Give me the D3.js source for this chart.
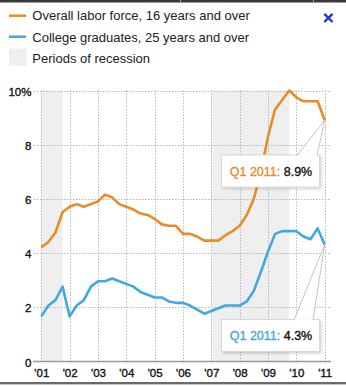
<!DOCTYPE html>
<html>
<head>
<meta charset="utf-8">
<script src="https://cdn.jsdelivr.net/npm/d3@7"></script>
<style>
  html, body { margin: 0; padding: 0; background: #fff; }
  svg { display: block; font-family: "Liberation Sans", Arial, Helvetica, sans-serif; }
</style>
</head>
<body>
<svg id="chart" width="346" height="387"></svg>
<script>
// ---------- data ----------
const quarters = [
  "Q1 2001","Q2 2001","Q3 2001","Q4 2001",
  "Q1 2002","Q2 2002","Q3 2002","Q4 2002",
  "Q1 2003","Q2 2003","Q3 2003","Q4 2003",
  "Q1 2004","Q2 2004","Q3 2004","Q4 2004",
  "Q1 2005","Q2 2005","Q3 2005","Q4 2005",
  "Q1 2006","Q2 2006","Q3 2006","Q4 2006",
  "Q1 2007","Q2 2007","Q3 2007","Q4 2007",
  "Q1 2008","Q2 2008","Q3 2008","Q4 2008",
  "Q1 2009","Q2 2009","Q3 2009","Q4 2009",
  "Q1 2010","Q2 2010","Q3 2010","Q4 2010",
  "Q1 2011"
];
const overallLaborForce = [
  4.2, 4.4, 4.75, 5.5,
  5.7, 5.8, 5.7, 5.8,
  5.9, 6.15, 6.05, 5.8,
  5.7, 5.6, 5.45, 5.4,
  5.25, 5.05, 5.0, 5.0,
  4.7, 4.7, 4.6, 4.45,
  4.45, 4.45, 4.65, 4.8,
  5.0, 5.4, 6.0, 7.0,
  8.3, 9.3, 9.65, 10.0,
  9.75, 9.6, 9.6, 9.6,
  8.9
];
const collegeGraduates = [
  1.65, 2.05, 2.25, 2.75,
  1.65, 2.05, 2.25, 2.75,
  2.95, 2.95, 3.05, 2.95,
  2.85, 2.75, 2.55, 2.45,
  2.35, 2.35, 2.2, 2.15,
  2.15, 2.05, 1.9, 1.75,
  1.85, 1.95, 2.05, 2.05,
  2.05, 2.2, 2.6, 3.3,
  4.05, 4.7, 4.8, 4.8,
  4.8, 4.6, 4.5, 4.9,
  4.3
];
const recessions = [
  ["Q1 2001", "Q4 2001"],
  ["Q1 2007", "Q4 2009"]
];
const yearTicks = ["'01","'02","'03","'04","'05","'06","'07","'08","'09","'10","'11"];
const yTicks = [0, 2, 4, 6, 8, 10];
const seriesNames = ["Overall labor force, 16 years and over", "College graduates, 25 years and over"];
const recessionLabel = "Periods of recession";

// ---------- styles ----------
const ORANGE = "#e98b26";
const BLUE = "#42a8de";
const GRID = "#b9b9b9";
const TEXT = "#222";

const svg = d3.select("#chart");

// quarter label -> fractional year position
const qPos = q => { const p = q.split(" "); return +p[1] + (+p[0].slice(1) - 1) / 4; };

const x = d3.scaleLinear().domain([2001, 2011]).range([41.3, 324.7]);
const y = d3.scaleLinear().domain([0, 10]).range([361, 90.5]);

// defs: drop shadow
const defs = svg.append("defs");
const f = defs.append("filter").attr("id", "shadow").attr("x", "-20%").attr("y", "-30%").attr("width", "150%").attr("height", "180%");
f.append("feDropShadow").attr("dx", 1.5).attr("dy", 1.5).attr("stdDeviation", 1.6).attr("flood-color", "#000").attr("flood-opacity", 0.18);

// top bar & bottom rule (frame)
svg.append("rect").attr("x", 0).attr("y", 0).attr("width", 346).attr("height", 2.5).attr("fill", "#3a3a3a");
[180, 313].forEach(px => svg.append("rect").attr("x", px).attr("y", 0).attr("width", 1).attr("height", 2.5).attr("fill", "#9a9a9a"));
svg.append("rect").attr("x", 0).attr("y", 382).attr("width", 346).attr("height", 2).attr("fill", "#6a6a6a");
svg.append("rect").attr("x", 0).attr("y", 384).attr("width", 346).attr("height", 1).attr("fill", "#c8c8c8");

// ---------- legend ----------
const legend = svg.append("g");
legend.append("line").attr("x1", 9).attr("x2", 26).attr("y1", 15.7).attr("y2", 15.7).attr("stroke", ORANGE).attr("stroke-width", 2.5);
legend.append("text").attr("x", 32.3).attr("y", 20.3).attr("font-size", 13).attr("fill", TEXT).text(seriesNames[0]);
legend.append("line").attr("x1", 9).attr("x2", 26).attr("y1", 36.7).attr("y2", 36.7).attr("stroke", BLUE).attr("stroke-width", 2.5);
legend.append("text").attr("x", 32.3).attr("y", 41.5).attr("font-size", 13).attr("fill", TEXT).text(seriesNames[1]);
legend.append("rect").attr("x", 9).attr("y", 48.5).attr("width", 17.5).attr("height", 17.5).attr("fill", "#efefef");
legend.append("text").attr("x", 32.3).attr("y", 62.5).attr("font-size", 13).attr("fill", TEXT).text(recessionLabel);

// close icon
svg.append("path").attr("d", "M324.3,13.8 L332.5,22 M332.5,13.8 L324.3,22")
  .attr("stroke", "#1f35d0").attr("stroke-width", 2.4).attr("fill", "none");

// ---------- chart ----------
const g = svg.append("g");

// recession shading
g.selectAll("rect.rec").data(recessions).join("rect").attr("class", "rec")
  .attr("x", d => x(qPos(d[0])))
  .attr("width", d => x(qPos(d[1])) - x(qPos(d[0])))
  .attr("y", y(10))
  .attr("height", y(0) - y(10))
  .attr("fill", "#efefef");

// horizontal grid
g.selectAll("line.hg").data(yTicks.filter(v => v > 0)).join("line").attr("class", "hg")
  .attr("x1", 34).attr("x2", 331)
  .attr("y1", d => Math.round(y(d)) + 0.5).attr("y2", d => Math.round(y(d)) + 0.5)
  .attr("stroke", GRID).attr("stroke-width", 1).attr("stroke-dasharray", "1.5,1.5");

// vertical grid
g.selectAll("line.vg").data(yearTicks).join("line").attr("class", "vg")
  .attr("x1", (d, i) => Math.round(x(2001 + i)) + 0.5).attr("x2", (d, i) => Math.round(x(2001 + i)) + 0.5)
  .attr("y1", y(10)).attr("y2", y(0) + 3)
  .attr("stroke", GRID).attr("stroke-width", 1).attr("stroke-dasharray", "1.5,1.5");

// baseline
g.append("line").attr("x1", 33).attr("x2", 331).attr("y1", y(0) + 0.5).attr("y2", y(0) + 0.5)
  .attr("stroke", "#9a9a9a").attr("stroke-width", 1.5);

// y labels
g.selectAll("text.yl").data(yTicks).join("text").attr("class", "yl")
  .attr("x", 31.5).attr("y", d => y(d) + 5.5)
  .attr("text-anchor", "end").attr("font-size", 11.5).attr("fill", "#111")
  .attr("stroke", "#111").attr("stroke-width", 0.35)
  .text(d => d === 10 ? d + "%" : d);

// x labels
g.selectAll("text.xl").data(yearTicks).join("text").attr("class", "xl")
  .attr("x", (d, i) => x(2001 + i) + 0.5).attr("y", 376.5)
  .attr("text-anchor", "middle").attr("font-size", 11.5).attr("fill", "#111")
  .attr("stroke", "#111").attr("stroke-width", 0.35)
  .text(d => d);

// lines
const line = d3.line().x((d, i) => x(qPos(quarters[i]))).y(d => y(d));
g.append("path").datum(overallLaborForce).attr("d", line)
  .attr("fill", "none").attr("stroke", ORANGE).attr("stroke-width", 2.6).attr("stroke-linejoin", "round");
g.append("path").datum(collegeGraduates).attr("d", line)
  .attr("fill", "none").attr("stroke", BLUE).attr("stroke-width", 2.6).attr("stroke-linejoin", "round");

// ---------- callouts ----------
const last = quarters.length - 1;
function callout(values, color, boxTop, tailL, tailR) {
  const px = x(qPos(quarters[last])), py = y(values[last]);
  const bx = 221.5, bw = 98, bh = 32;
  const c = svg.append("g");
  c.append("rect").attr("x", bx).attr("y", boxTop).attr("width", bw).attr("height", bh)
    .attr("fill", "#fff").attr("stroke", "#d8d8d8").attr("stroke-width", 1).attr("filter", "url(#shadow)");
  // tail
  c.append("path").attr("d", `M${tailL},${boxTop + 1.5} L${px},${py} L${tailR},${boxTop + 1.5} Z`)
    .attr("fill", "#fff").attr("fill-opacity", 0.85).attr("stroke", "none");
  c.append("path").attr("d", `M${tailL},${boxTop + 0.5} L${px},${py} L${tailR},${boxTop + 0.5}`)
    .attr("fill", "none").attr("stroke", "#c4c4c4").attr("stroke-width", 1);
  const t = c.append("text").attr("x", bx + bw / 2 + 0.5).attr("y", boxTop + 20.5)
    .attr("text-anchor", "middle").attr("font-size", 12.5).attr("stroke-width", 0.35);
  t.append("tspan").attr("fill", color).attr("stroke", color).text(quarters[last] + ": ");
  t.append("tspan").attr("fill", "#111").attr("stroke", "#111").text(values[last] + "%");
}
callout(overallLaborForce, ORANGE, 155, 297, 317);
callout(collegeGraduates, BLUE, 319.5, 294, 313);
</script>
</body>
</html>
